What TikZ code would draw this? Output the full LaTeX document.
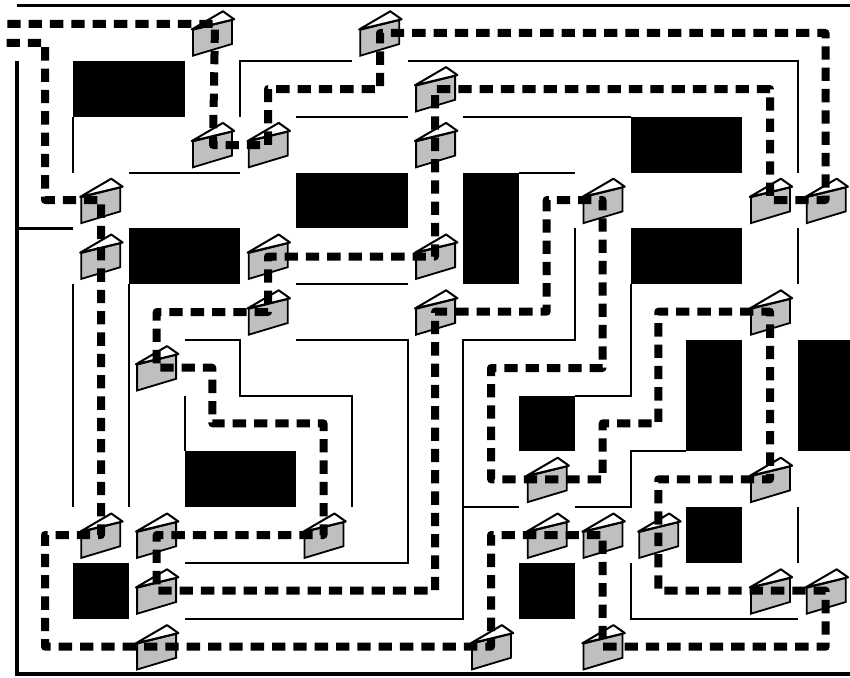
\documentclass[tikz,border=0pt]{standalone}
\tikzset{
	wall/.style={line width=2.4pt},
	outerwall/.style={line width=3.4pt},
	block/.style={fill=black},
	tour/.style={line width=8pt,line join=round,dash pattern=on 13.33pt off 8pt},
	house/.pic={
		\draw[line width=1.8pt,fill=black!25] (-20.3,22.4) -- (-20.3,-3.5) -- (18.7,-13.3) -- (18.7,10.7) -- cycle;
		\draw[line width=2pt,fill=white,line join=round] (-21.5,-3.8) -- (9.7,-22) -- (21,-14) -- cycle;
	}
}
\begin{document}
\begin{tikzpicture}[x=1pt,y=-1pt]
	\useasboundingbox (0,0) rectangle (850,677);
	\foreach \a/\b/\c/\d in {73/61/185/117,296/173/408/228,463/173/519/284,631/117/742/173,631/228/742/284,129/228/240/284,686/340/742/451,798/340/850/451,519/396/575/451,185/451/296/507,686/507/742/563,519/563/575/619,73/563/129/619}
		\fill[block] (\a,\b) rectangle (\c,\d);
	\draw[outerwall] (17,61) -- (17,674) -- (850,674);
	\draw[outerwall] (17,5.5) -- (850,5.5);
	\draw[wall] (17,228.5) -- (73,228.5);
	\draw[wall] (73,117) -- (73,173);
	\draw[wall] (129,173) -- (240,173);
	\draw[wall] (240,117) -- (240,61) -- (352,61);
	\draw[wall] (408,61) -- (798,61) -- (798,173);
	\draw[wall] (798,228) -- (798,284);
	\draw[wall] (296,117) -- (408,117);
	\draw[wall] (463,117) -- (631,117);
	\draw[wall] (519,173) -- (575,173);
	\draw[wall] (575,228) -- (575,340) -- (463,340) -- (463,619) -- (185,619);
	\draw[wall] (631,284) -- (631,396) -- (575,396);
	\draw[wall] (686,451) -- (631,451) -- (631,507) -- (575,507);
	\draw[wall] (519,507) -- (463,507);
	\draw[wall] (798,507) -- (798,563);
	\draw[wall] (631,563) -- (631,619) -- (798,619);
	\draw[wall] (73,284) -- (73,507);
	\draw[wall] (129,284) -- (129,507);
	\draw[wall] (296,284) -- (408,284);
	\draw[wall] (185,340) -- (240,340) -- (240,396) -- (352,396) -- (352,507);
	\draw[wall] (185,396) -- (185,451);
	\draw[wall] (296,340) -- (408,340) -- (408,563) -- (185,563);
	\foreach \c/\r in {3/0,6/0,7/1,3/2,4/2,7/2,1/3,10/3,13/3,14/3,1/4,4/4,7/4,4/5,7/5,13/5,2/6,9/8,13/8,1/9,2/9,5/9,9/9,10/9,11/9,2/10,13/10,14/10,2/11,8/11,10/11}{
		\coordinate (h\c-\r) at ({45.8+55.8*\c},{33.3+55.8*\r});
		\pic at (h\c-\r) {house};
	}
	\draw[tour] (7.3,24) -- (215,24) -- (213,145) -- (268,145) -- (268,89) -- (380,89) -- (380,33) -- (825.5,33) -- (825.5,200) -- (770,200) -- (770,89) -- (435,89) -- (435,256.5) -- (268,256.5) -- (268,312) -- (156.7,312) -- (156.7,367.7) -- (212.3,367.7) -- (212.3,423.3) -- (323.5,423.3) -- (323.5,535) -- (156.7,535) -- (156.7,590.7) -- (435,590.7) -- (435,311.7) -- (546.7,311.7) -- (546.7,200) -- (602.5,200) -- (602.5,368) -- (491,368) -- (491,479.3) -- (602.7,479.3) -- (602.7,423.3) -- (658.3,423.3) -- (658.3,311.7) -- (770,311.7) -- (770,479.3) -- (658.3,479.3) -- (658.3,590.7) -- (825.7,590.7) -- (825.7,646.7) -- (602.7,646.7) -- (602.7,535) -- (491,535) -- (491,646.7) -- (45,646.7) -- (45,535) -- (101,535) -- (101,200) -- (45,200) -- (45,43) -- (3,43);%tournee
\end{tikzpicture}
\end{document}
